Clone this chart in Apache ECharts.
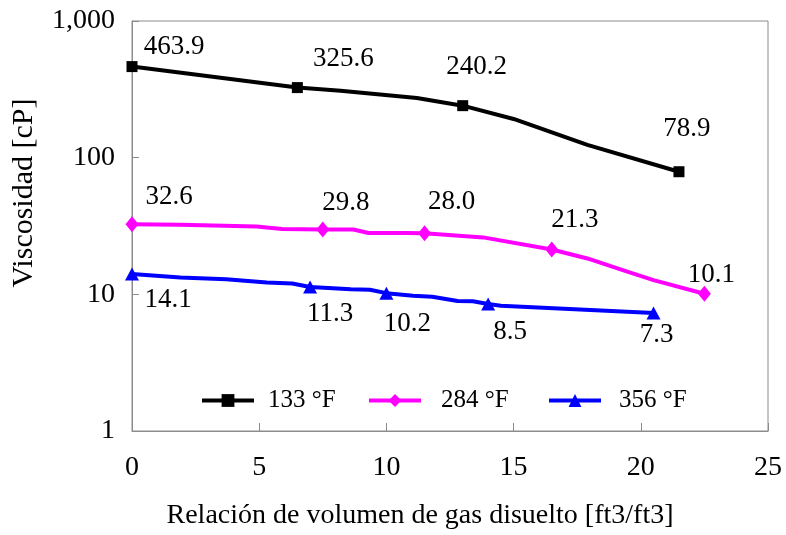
<!DOCTYPE html>
<html>
<head>
<meta charset="utf-8">
<script src="https://cdn.jsdelivr.net/npm/echarts@6/dist/echarts.min.js"></script>
<style>
  html, body { margin: 0; padding: 0; background: #fff; }
  #chart { width: 786px; height: 535px; }
</style>
</head>
<body>
<div id="chart"></div>
<script>
// Solution gas ratio (ft3/ft3) and measured viscosity (cP) at each temperature
const seriesNames = ['133 °F', '284 °F', '356 °F'];

const gor133 = [0, 6.5, 13, 21.5];
const visc133 = [463.9, 325.6, 240.2, 78.9];
const gor284 = [0, 7.5, 11.5, 16.5, 22.5];
const visc284 = [32.6, 29.8, 28.0, 21.3, 10.1];
const gor356 = [0, 7, 10, 14, 20.5];
const visc356 = [14.1, 11.3, 10.2, 8.5, 7.3];

// Points along each fitted curve between the measured values
const curveGor133 = [8.2, 11.2, 15.0, 17.9];
const curveVisc133 = [309, 273, 192, 124];
const curveGor284 = [1.9, 4.9, 5.9, 8.7, 9.3, 10.8, 13.8, 17.9, 19.5, 20.5];
const curveVisc284 = [32.3, 31.3, 30.1, 29.8, 28.1, 28.1, 26.1, 18.3, 14.6, 12.7];
const curveGor356 = [1.9, 3.7, 5.3, 6.3, 7.9, 8.6, 9.35, 11.05, 11.8, 12.8, 13.4, 14.5];
const curveVisc356 = [13.3, 12.9, 12.2, 12.0, 11.1, 10.9, 10.8, 9.77, 9.6, 8.94, 8.9, 8.26];

// Axis ticks
const xTicks = [0, 5, 10, 15, 20, 25];
const yTicks = [1, 10, 100, 1000];

// Label placement relative to each marker (px)
const labelShift133 = [[42, -20], [46, -29], [14, -39], [8, -43]];
const labelShift284 = [[37, -27], [23, -27], [27, -31], [23, -30], [7, -19]];
const labelShift356 = [[36, 26], [20, 27], [21, 31], [22, 28], [3, 22]];

const FONT = 'Liberation Serif';

function buildData(gor, visc, curveGor, curveVisc, shifts) {
  const pts = [];
  gor.forEach((x, i) => pts.push({
    value: [x, visc[i]],
    label: { show: true, offset: shifts[i] }
  }));
  curveGor.forEach((x, i) => pts.push({
    value: [x, curveVisc[i]],
    symbol: 'none',
    label: { show: false }
  }));
  pts.sort((a, b) => a.value[0] - b.value[0]);
  return pts;
}

function lineSeries(name, color, symbol, size, data) {
  return {
    name: name,
    type: 'line',
    data: data,
    symbol: symbol,
    symbolSize: size,
    showSymbol: true,
    showAllSymbol: true,
    smooth: false,
    lineStyle: { color: color, width: 4 },
    itemStyle: { color: color },
    label: {
      show: false,
      position: 'inside',
      fontFamily: FONT,
      fontSize: 27,
      color: '#000',
      formatter: p => p.value[1].toFixed(1)
    },
    emphasis: { disabled: true },
    animation: false,
    z: 3
  };
}

function legendAt(name, left, gap) {
  return {
    data: [name],
    left: left,
    top: 388,
    padding: 0,
    itemWidth: 52,
    itemHeight: 16,
    selectedMode: false,
    lineStyle: { width: 4 },
    textStyle: {
      fontFamily: FONT,
      fontSize: 25,
      color: '#000',
      lineHeight: 22,
      padding: [0, 0, 0, gap]
    }
  };
}

const chart = echarts.init(document.getElementById('chart'), null, { renderer: 'canvas' });

chart.setOption({
  backgroundColor: '#fff',
  animation: false,
  grid: {
    left: 132, right: 18, top: 21, bottom: 104,
    show: true, borderColor: '#8c8c8c', borderWidth: 1, backgroundColor: 'transparent'
  },
  xAxis: {
    type: 'value',
    min: xTicks[0],
    max: xTicks[xTicks.length - 1],
    interval: xTicks[1] - xTicks[0],
    axisLine: { show: true, lineStyle: { color: '#8c8c8c', width: 1 } },
    axisTick: { show: true, inside: true, length: 8, lineStyle: { color: '#8c8c8c' } },
    splitLine: { show: false },
    axisLabel: { fontFamily: FONT, fontSize: 28, color: '#000', margin: 23 }
  },
  yAxis: {
    type: 'log',
    logBase: 10,
    min: yTicks[0],
    max: yTicks[yTicks.length - 1],
    axisLine: { show: true, lineStyle: { color: '#8c8c8c', width: 1 } },
    axisTick: { show: true, inside: true, length: 7, lineStyle: { color: '#8c8c8c' } },
    splitLine: { show: false },
    minorTick: { show: false },
    axisLabel: {
      fontFamily: FONT, fontSize: 28, color: '#000', margin: 17,
      formatter: v => v >= 1000 ? v.toLocaleString('en-US') : String(v)
    }
  },
  legend: [
    legendAt(seriesNames[0], 200, 9),
    legendAt(seriesNames[1], 367, 15),
    legendAt(seriesNames[2], 547, 13)
  ],
  graphic: [
    {
      type: 'text',
      x: 24, y: 193,
      rotation: Math.PI / 2,
      style: {
        text: 'Viscosidad [cP]',
        font: '30px "Liberation Serif"',
        fill: '#000',
        align: 'center',
        verticalAlign: 'middle'
      }
    },
    {
      type: 'text',
      x: 420, y: 516,
      style: {
        text: 'Relación de volumen de gas disuelto [ft3/ft3]',
        font: '28px "Liberation Serif"',
        fill: '#000',
        align: 'center',
        verticalAlign: 'middle'
      }
    }
  ],
  series: [
    lineSeries(seriesNames[0], '#000000', 'rect', 11,
      buildData(gor133, visc133, curveGor133, curveVisc133, labelShift133)),
    lineSeries(seriesNames[1], '#ff00ff', 'diamond', [13, 16],
      buildData(gor284, visc284, curveGor284, curveVisc284, labelShift284)),
    lineSeries(seriesNames[2], '#0000ff', 'triangle', [14, 13],
      buildData(gor356, visc356, curveGor356, curveVisc356, labelShift356))
  ]
});
</script>
</body>
</html>
